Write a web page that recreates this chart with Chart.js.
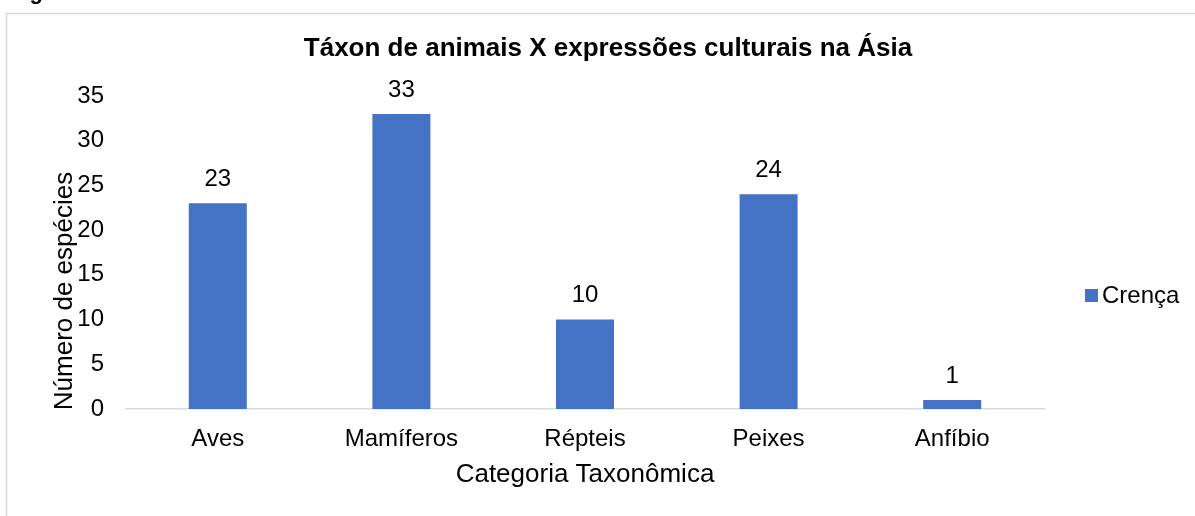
<!DOCTYPE html>
<html>
<head>
<meta charset="utf-8">
<script src="https://cdn.jsdelivr.net/npm/chart.js@4.4.1/dist/chart.umd.min.js"></script>
<style>
  html, body { margin: 0; padding: 0; background: #fff; }
  #wrap { width: 1195px; height: 516px; position: relative; }
</style>
</head>
<body>
<div id="wrap"><canvas id="c" width="1195" height="516"></canvas></div>
<script>
// Categorias taxonômicas e número de espécies (série "Crença")
const categorias = ['Aves', 'Mamíferos', 'Répteis', 'Peixes', 'Anfíbio'];
const crenca = [23, 33, 10, 24, 1];
const serieNome = 'Crença';
const titulo = 'Táxon de animais X expressões culturais na Ásia';
const tituloY = 'Número de espécies';
const tituloX = 'Categoria Taxonômica';
const legenda = 'Figura';

const FONT = '"Liberation Sans", Arial, sans-serif';
const AZUL = '#4472C4';

const decoracao = {
  id: 'decoracao',
  beforeDraw(chart) {
    const ctx = chart.ctx;
    ctx.save();
    ctx.fillStyle = '#fff';
    ctx.fillRect(0, 0, chart.width, chart.height);
    // legenda da figura (cortada no topo)
    ctx.fillStyle = '#000';
    ctx.font = 'bold 22px ' + FONT;
    ctx.textAlign = 'left';
    ctx.textBaseline = 'alphabetic';
    ctx.fillText(legenda, 10, -1);
    // moldura do gráfico
    ctx.strokeStyle = '#d9d9d9';
    ctx.lineWidth = 1.5;
    ctx.strokeRect(6.5, 13.5, 1200, 600);
    ctx.restore();
  },
  afterDraw(chart) {
    const ctx = chart.ctx;
    const area = chart.chartArea;
    ctx.save();
    ctx.fillStyle = '#000';
    // título
    ctx.font = 'bold 26px ' + FONT;
    ctx.textAlign = 'center';
    ctx.textBaseline = 'middle';
    ctx.fillText(titulo, 608, 49);
    // título do eixo X
    ctx.font = '26px ' + FONT;
    ctx.fillText(tituloX, (area.left + area.right) / 2, 475);
    // título do eixo Y
    ctx.save();
    ctx.translate(65, 291);
    ctx.rotate(-Math.PI / 2);
    ctx.fillText(tituloY, 0, 0);
    ctx.restore();
    // legenda da série
    ctx.fillStyle = AZUL;
    ctx.fillRect(1085, 289, 13, 13);
    ctx.fillStyle = '#000';
    ctx.font = '24px ' + FONT;
    ctx.textAlign = 'left';
    ctx.fillText(serieNome, 1102, 296);
    // rótulos de valor
    const meta = chart.getDatasetMeta(0);
    ctx.textAlign = 'center';
    ctx.font = '24px ' + FONT;
    meta.data.forEach((bar, i) => {
      ctx.fillText(String(chart.data.datasets[0].data[i]), bar.x, bar.y - 24);
    });
    ctx.restore();
  }
};

new Chart(document.getElementById('c'), {
  type: 'bar',
  data: {
    labels: categorias,
    datasets: [{
      label: serieNome,
      data: crenca,
      backgroundColor: AZUL,
      borderWidth: 0,
      categoryPercentage: 1,
      barPercentage: 0.316
    }]
  },
  options: {
    responsive: false,
    animation: false,
    devicePixelRatio: 1,
    layout: { padding: { top: 96, right: 151, left: 0, bottom: 0 } },
    plugins: {
      legend: { display: false },
      title: { display: false },
      tooltip: { enabled: false }
    },
    scales: {
      x: {
        afterFit(s) { s.height = 107; },
        grid: { display: false, drawTicks: false },
        border: { display: true, color: '#d9d9d9', width: 1.5 },
        ticks: { color: '#000', font: { family: FONT, size: 24 }, padding: 16, maxRotation: 0 }
      },
      y: {
        min: 0,
        max: 35,
        afterFit(s) { s.width = 126; },
        grid: { display: false, drawTicks: false },
        border: { display: false },
        ticks: { stepSize: 5, color: '#000', font: { family: FONT, size: 24 }, padding: 22 }
      }
    }
  },
  plugins: [decoracao]
});
</script>
</body>
</html>
